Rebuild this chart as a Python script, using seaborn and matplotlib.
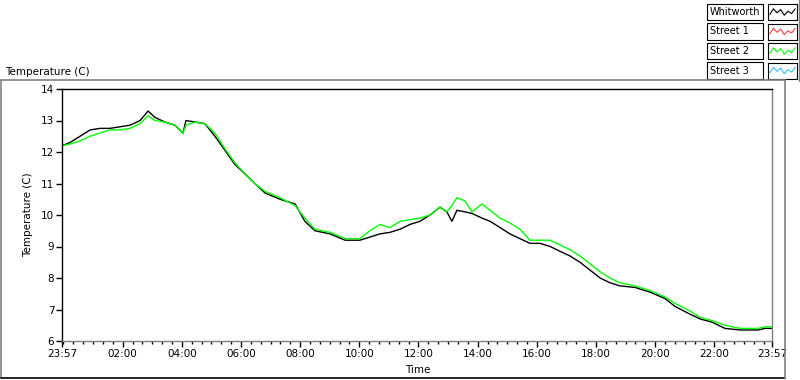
import numpy as np
import pandas as pd
import matplotlib
matplotlib.use("Agg")
import matplotlib.pyplot as plt
from matplotlib.patches import Rectangle
from matplotlib.lines import Line2D
import seaborn as sns

# hours elapsed since 23:57
hours = [0.00, 0.27, 0.61, 0.95, 1.28, 1.62, 1.96, 2.30, 2.64, 2.91,
         3.14, 3.48, 3.82, 4.09, 4.19, 4.50, 4.83, 5.17, 5.51, 5.85,
         6.19, 6.52, 6.86, 7.37, 7.88, 8.21, 8.55, 9.06, 9.57, 10.07,
         10.41, 10.75, 11.09, 11.43, 11.76, 12.10, 12.44, 12.78, 13.01, 13.18,
         13.35, 13.62, 13.86, 14.20, 14.47, 14.81, 15.14, 15.48, 15.82, 16.16,
         16.50, 16.83, 17.17, 17.51, 17.85, 18.19, 18.52, 18.86, 19.37, 19.88,
         20.38, 20.72, 21.23, 21.57, 21.97, 22.41, 22.92, 23.53, 23.76, 24.00]

whitworth = [12.2, 12.3, 12.5, 12.7, 12.75, 12.75, 12.8, 12.85, 13.0, 13.3,
             13.1, 12.95, 12.85, 12.6, 13.0, 12.95, 12.9, 12.5, 12.05, 11.6,
             11.3, 11.0, 10.7, 10.5, 10.35, 9.8, 9.5, 9.4, 9.2, 9.2,
             9.3, 9.4, 9.45, 9.55, 9.7, 9.8, 10.0, 10.25, 10.1, 9.8,
             10.15, 10.1, 10.05, 9.9, 9.8, 9.6, 9.4, 9.25, 9.1, 9.1,
             9.0, 8.85, 8.7, 8.5, 8.25, 8.0, 7.85, 7.75, 7.7, 7.55,
             7.35, 7.1, 6.85, 6.7, 6.6, 6.4, 6.35, 6.35, 6.4, 6.4]

street2 = [12.2, 12.25, 12.35, 12.5, 12.6, 12.7, 12.7, 12.75, 12.9, 13.15,
           13.0, 12.95, 12.85, 12.6, 12.85, 12.95, 12.9, 12.6, 12.1, 11.65,
           11.3, 11.0, 10.75, 10.55, 10.3, 9.9, 9.55, 9.45, 9.25, 9.25,
           9.5, 9.7, 9.6, 9.8, 9.85, 9.9, 10.0, 10.25, 10.1, 10.3,
           10.55, 10.45, 10.1, 10.35, 10.15, 9.9, 9.75, 9.55, 9.2, 9.2,
           9.2, 9.05, 8.9, 8.7, 8.45, 8.2, 8.0, 7.85, 7.75, 7.6,
           7.4, 7.2, 6.95, 6.75, 6.65, 6.5, 6.4, 6.4, 6.45, 6.45]

series_names = ["Whitworth", "Street 1", "Street 2", "Street 3"]
series_colors = ["#000000", "#ff4040", "#00ff00", "#33bbff"]

tick_hours = [0.0] + [2.05 + 2 * i for i in range(11)] + [24.0]
tick_labels = ["23:57"] + ["%02d:00" % (2 + 2 * i) for i in range(11)] + ["23:57"]

sns.set_style("ticks")
plt.rcParams['font.family'] = ['DejaVu Sans']
plt.rcParams['font.size'] = 7.5
plt.rcParams['text.color'] = 'black'
plt.rcParams['axes.labelcolor'] = 'black'
plt.rcParams['xtick.color'] = 'black'
plt.rcParams['ytick.color'] = 'black'
plt.rcParams['xtick.bottom'] = True
plt.rcParams['ytick.left'] = True

df = pd.concat([
    pd.DataFrame({"Time": hours, "Temperature": whitworth, "Sensor": "Whitworth"}),
    pd.DataFrame({"Time": hours, "Temperature": street2, "Sensor": "Street 2"}),
])

fig = plt.figure(figsize=(8, 3.8), dpi=100)
ax = fig.add_axes([62 / 800, 1 - 341 / 380, 710 / 800, 252 / 380])

sns.lineplot(data=df, x="Time", y="Temperature", hue="Sensor",
             hue_order=["Whitworth", "Street 2"],
             palette={"Whitworth": "#000000", "Street 2": "#00ff00"},
             linewidth=1.0, legend=False, ax=ax, estimator=None, sort=False)

ax.set_xlim(0, 24)
ax.set_ylim(6, 14)
ax.set_yticks(range(6, 15))
ax.set_xticks(tick_hours)
ax.set_xticklabels(tick_labels)
ax.set_xticks([0.05 + k / 3 for k in range(72)], minor=True)
ax.tick_params(axis='both', which='major', direction='out', length=4, width=1.0,
               color='black', labelcolor='black', labelsize=7.5, pad=1.5,
               bottom=True, left=True)
ax.tick_params(axis='x', which='minor', direction='out', length=2.5, width=1.0,
               color='black', bottom=True)
ax.set_xlabel("Time", fontsize=7.5)
ax.xaxis.label.set_horizontalalignment('left')
ax.xaxis.set_label_coords(0.483, -0.095)
ax.set_ylabel("Temperature (C)", fontsize=7.5, labelpad=6)

for side in ["top", "left"]:
    ax.spines[side].set_visible(True)
    ax.spines[side].set_color("black")
    ax.spines[side].set_linewidth(1.0)
for side in ["bottom", "right"]:
    ax.spines[side].set_visible(True)
    ax.spines[side].set_color("#808080")
    ax.spines[side].set_linewidth(1.0)

# outer panel frame
W, H = 800.0, 380.0
fig.add_artist(Line2D([1 / W, 785 / W], [1 - 80 / H, 1 - 80 / H], color="#808080", lw=1.2,
                      transform=fig.transFigure))
fig.add_artist(Line2D([1 / W, 1 / W], [1 - 80 / H, 1 - 378 / H], color="#808080", lw=1.2,
                      transform=fig.transFigure))
fig.add_artist(Line2D([1 / W, 785 / W], [1 - 378 / H, 1 - 378 / H], color="black", lw=1.2,
                      transform=fig.transFigure))
fig.add_artist(Line2D([785 / W, 785 / W], [1 - 80 / H, 1 - 378 / H], color="#808080", lw=1.2,
                      transform=fig.transFigure))
fig.text(5 / W, 1 - 72 / H, "Temperature (C)", ha='left', va='center', fontsize=7.5)

# legend block
zig = [0.35, 0.7, 0.45, 0.65, 0.3, 0.55, 0.4, 0.7]
for i, (name, col) in enumerate(zip(series_names, series_colors)):
    top = 4 + i * 19.5
    h = 16
    fig.add_artist(Rectangle((707 / W, 1 - (top + h) / H), 56 / W, h / H,
                             facecolor='white', edgecolor='black', lw=0.8,
                             transform=fig.transFigure))
    fig.text(710 / W, 1 - (top + h / 2) / H, name, ha='left', va='center', fontsize=7)
    sax = fig.add_axes([768 / W, 1 - (top + h) / H, 29 / W, h / H])
    sax.plot(np.arange(len(zig)), zig, color=col, lw=0.8)
    sax.set_xlim(-0.5, len(zig) - 0.5)
    sax.set_ylim(0, 1)
    sax.set_xticks([])
    sax.set_yticks([])
    for s in sax.spines.values():
        s.set_visible(True)
        s.set_color('black')
        s.set_linewidth(0.8)
fig.add_artist(Line2D([799 / W, 799 / W], [1.0, 1 - 81 / H], color="#808080", lw=1.0,
                      transform=fig.transFigure))

fig.savefig("out.png", dpi=100, facecolor='white')
